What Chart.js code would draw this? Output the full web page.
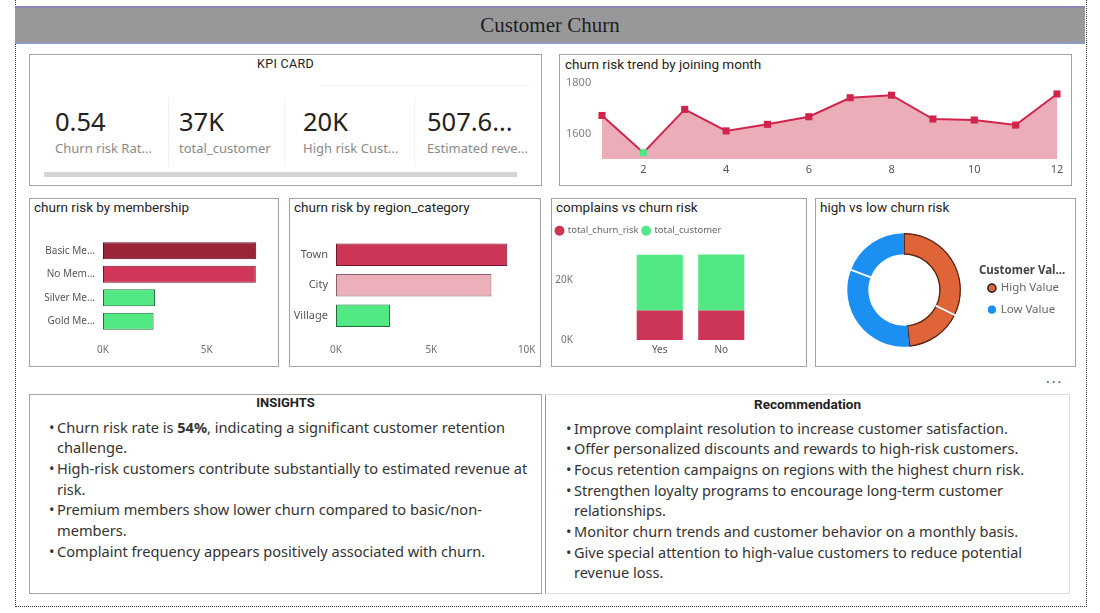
<!DOCTYPE html>
<html><head><meta charset="utf-8">
<script src="https://cdn.jsdelivr.net/npm/chart.js@4.4.1/dist/chart.umd.min.js"></script>
<style>
html,body{margin:0;padding:0;background:#fff;width:1100px;height:613px;overflow:hidden;font-family:"Noto Sans",sans-serif;}
.abs{position:absolute;}
.box{position:absolute;border:1px solid #a3a3a3;box-sizing:border-box;background:#fff;}
.ctitle{position:absolute;font-family:Roboto,sans-serif;font-size:13.5px;color:#252423;white-space:nowrap;line-height:16px;}
canvas{position:absolute;}
.kv{position:absolute;font-family:"Noto Sans",sans-serif;font-size:25.5px;color:#222;top:104px;line-height:34px;white-space:nowrap;}
.kl{position:absolute;font-family:"Noto Sans",sans-serif;font-size:13px;color:#8a8a8a;top:139px;line-height:18px;white-space:nowrap;}
.txt{position:absolute;font-family:"Noto Sans",sans-serif;color:#333;line-height:20.7px;white-space:nowrap;}
.txt .b{position:absolute;left:-8px;}
</style>
</head><body>
<script>
// ---------- DATA ----------
const kpiValues = ['0.54', '37K', '20K', '507.6...'];
const kpiLabels = ['Churn risk Rat...', 'total_customer', 'High risk Cust...', 'Estimated reve...'];

const trendMonths = [1, 2, 3, 4, 5, 6, 7, 8, 9, 10, 11, 12];
const trendChurn = [1672, 1525, 1696, 1611, 1637, 1667, 1742, 1752, 1658, 1654, 1634, 1757];
const trendTicks = [1600, 1800];

const membershipLabels = ['Basic Me...', 'No Mem...', 'Silver Me...', 'Gold Me...'];
const membershipChurn = [7390, 7370, 2510, 2440];

const regionLabels = ['Town', 'City', 'Village'];
const regionChurn = [8980, 8150, 2830];

const complainLabels = ['Yes', 'No'];
const complainChurn = [9800, 9800];
const complainCustomer = [18500, 18550];
const complainTicks = [0, 20000];

const valueSegmentLabels = ['High Value', 'High Value', 'Low Value', 'Low Value'];
const valueSegmentShares = [32.3, 16.2, 32.3, 19.2];
const valueLegend = ['High Value', 'Low Value'];

const insights = [
  ['Churn risk rate is <b>54%</b>, indicating a significant customer retention', 'challenge.'],
  ['High-risk customers contribute substantially to estimated revenue at', 'risk.'],
  ['Premium members show lower churn compared to basic/non-', 'members.'],
  ['Complaint frequency appears positively associated with churn.']
];
const recommendations = [
  ['Improve complaint resolution to increase customer satisfaction.'],
  ['Offer personalized discounts and rewards to high-risk customers.'],
  ['Focus retention campaigns on regions with the highest churn risk.'],
  ['Strengthen loyalty programs to encourage long-term customer', 'relationships.'],
  ['Monitor churn trends and customer behavior on a monthly basis.'],
  ['Give special attention to high-value customers to reduce potential', 'revenue loss.']
];
</script>

<!-- outer dotted frame -->
<div class="abs" style="left:15px;top:0;width:1072px;height:607px;border-left:1px dotted #333;border-right:1px dotted #333;border-bottom:1px dotted #333;box-sizing:border-box;"></div>

<!-- header -->
<div class="abs" style="left:15px;top:6px;width:1070px;height:38px;background:#98989b;border-top:2px solid #8a86b6;border-bottom:2px solid #8c9cc4;box-sizing:border-box;"></div>
<div class="abs" style="left:15px;top:6px;width:1070px;height:38px;line-height:38px;text-align:center;font-family:'Liberation Serif',serif;font-size:21px;color:#1e1e1e;">Customer Churn</div>

<!-- KPI card -->
<div class="box" style="left:29px;top:54px;width:513px;height:132px;"></div>
<div class="abs" style="left:29px;top:56px;width:513px;text-align:center;font-family:Roboto,sans-serif;font-size:12.5px;color:#222;line-height:16px;letter-spacing:0.3px;">KPI CARD</div>
<div class="abs" style="left:320px;top:85px;width:210px;height:1px;background:#f3f3f3;"></div>
<div class="abs" style="left:168px;top:97px;width:1px;height:70px;background:#f2f2f2;"></div>
<div class="abs" style="left:284px;top:97px;width:1px;height:70px;background:#f2f2f2;"></div>
<div class="abs" style="left:414px;top:97px;width:1px;height:70px;background:#f2f2f2;"></div>
<div class="abs" style="left:44px;top:172px;width:473px;height:5px;background:#d4d4d6;"></div>
<div id="kpis"></div>

<!-- trend -->
<div class="box" style="left:559px;top:54px;width:513px;height:132px;"></div>
<div class="ctitle" style="left:565px;top:56px;">churn risk trend by joining month</div>
<canvas id="trend" width="510" height="111" style="left:560px;top:72px;"></canvas>

<!-- membership -->
<div class="box" style="left:29px;top:198px;width:250px;height:169px;"></div>
<div class="ctitle" style="left:34px;top:199px;">churn risk by membership</div>
<canvas id="member" width="247" height="133" style="left:30px;top:225px;"></canvas>

<!-- region -->
<div class="box" style="left:289px;top:198px;width:252px;height:169px;"></div>
<div class="ctitle" style="left:294px;top:199px;">churn risk by region_category</div>
<canvas id="region" width="249" height="133" style="left:290px;top:225px;"></canvas>

<!-- complains -->
<div class="box" style="left:551px;top:198px;width:256px;height:169px;"></div>
<div class="ctitle" style="left:556px;top:199px;">complains vs churn risk</div>
<canvas id="complain" width="253" height="136" style="left:552px;top:222px;"></canvas>

<!-- donut -->
<div class="box" style="left:815px;top:198px;width:261px;height:169px;"></div>
<div class="ctitle" style="left:820px;top:199px;">high vs low churn risk</div>
<canvas id="donut" width="258" height="140" style="left:816px;top:220px;"></canvas>
<div class="abs" style="left:1046px;top:370px;font-size:14px;color:#555;letter-spacing:2px;line-height:16px;">...</div>

<!-- insights -->
<div class="box" style="left:29px;top:394px;width:513px;height:200px;"></div>
<div class="abs" style="left:29px;top:395px;width:513px;text-align:center;font-family:Roboto,sans-serif;font-weight:bold;font-size:13px;color:#222;line-height:16px;">INSIGHTS</div>
<div id="ins"></div>

<!-- recommendation -->
<div class="box" style="left:545px;top:394px;width:525px;height:200px;border-color:#dcdcdc;border-left-color:#9a9a9a;"></div>
<div class="abs" style="left:545px;top:396px;width:525px;text-align:center;font-family:Roboto,sans-serif;font-weight:bold;font-size:13.5px;color:#222;line-height:17px;">Recommendation</div>
<div id="rec"></div>

<script>
// KPI text
const kpiX = [55, 179, 303, 427];
let kh = '';
kpiValues.forEach((v, i) => {
  kh += `<div class="kv" style="left:${kpiX[i]}px">${v}</div><div class="kl" style="left:${kpiX[i]}px">${kpiLabels[i]}</div>`;
});
document.getElementById('kpis').innerHTML = kh;

function bulletBlock(el, items, left, top, size) {
  let h = '', line = 0;
  items.forEach(it => {
    it.forEach((t, j) => {
      h += `<div class="txt" style="font-size:${size}px;left:${left}px;top:${top + line * 20.7}px">${j === 0 ? '<span class="b">•</span>' : ''}${t}</div>`;
      line++;
    });
  });
  document.getElementById(el).innerHTML = h;
}
bulletBlock('ins', insights, 57, 416.5, 14.6);
bulletBlock('rec', recommendations, 574, 417.5, 14.5);

Chart.defaults.font.family = '"Noto Sans", sans-serif';
Chart.defaults.animation = false;
const tickColor = '#707070';
const noGrid = {display: false, drawTicks: false};

// trend line
const minV = Math.min(...trendChurn);
new Chart(document.getElementById('trend'), {
  type: 'line',
  data: {labels: trendMonths, datasets: [{
    data: trendChurn, borderColor: '#d0244b', borderWidth: 2, backgroundColor: '#ebaeb9',
    fill: 'start', tension: 0, pointStyle: 'rect', pointRadius: 5,
    pointBackgroundColor: trendChurn.map(v => v === minV ? '#4fe681' : '#d0244b'),
    pointBorderColor: trendChurn.map(v => v === minV ? '#4fe681' : '#d0244b'), pointBorderWidth: 0
  }]},
  options: {
    responsive: false, maintainAspectRatio: false,
    layout: {padding: {left: 6, right: 13, top: 6, bottom: 0}},
    plugins: {legend: {display: false}, tooltip: {enabled: false}},
    scales: {
      x: {grid: noGrid, border: {display: false},
        ticks: {autoSkip: false, maxRotation: 0, color: '#555', font: {size: 11}, padding: 4,
          callback: (v, i) => trendMonths[i] % 2 === 0 ? String(trendMonths[i]) : ''},
        afterFit: s => { s.height = 24; s.paddingRight = 0; s.paddingLeft = 0; }},
      y: {min: 1500, max: 1820, grid: noGrid, border: {display: false},
        afterBuildTicks: s => { s.ticks = trendTicks.map(v => ({value: v})); },
        ticks: {color: '#808080', font: {size: 11}, crossAlign: 'far', padding: 0, callback: v => String(v)},
        afterFit: s => { s.width = 36; s.paddingTop = 0; s.paddingBottom = 0; }}
    }
  }
});

// membership
new Chart(document.getElementById('member'), {
  type: 'bar',
  data: {labels: membershipLabels, datasets: [{
    data: membershipChurn,
    backgroundColor: ['#9b2438', '#cf3658', '#52e883', '#52e883'],
    borderColor: ['#5a0f1f', '#76132d', '#1d6e3a', '#1d6e3a'],
    borderWidth: 1, borderSkipped: false, barPercentage: 0.72, categoryPercentage: 1
  }]},
  options: {
    indexAxis: 'y', responsive: false, maintainAspectRatio: false,
    layout: {padding: {left: 0, right: 18.5, top: 7.5, bottom: 0}},
    plugins: {legend: {display: false}, tooltip: {enabled: false}},
    scales: {
      x: {min: 0, max: 7500, grid: noGrid, border: {display: false},
        afterBuildTicks: s => { s.ticks = [{value: 0}, {value: 5000}]; },
        ticks: {color: tickColor, font: {size: 10}, padding: 11, callback: v => (v / 1000) + 'K'},
        afterFit: s => { s.height = 25; s.paddingRight = 0; s.paddingLeft = 0; }},
      y: {grid: noGrid, border: {display: false},
        ticks: {color: '#555', font: {size: 10}, padding: 8},
        afterFit: s => { s.width = 73; }}
    }
  }
});

// region
new Chart(document.getElementById('region'), {
  type: 'bar',
  data: {labels: regionLabels, datasets: [{
    data: regionChurn,
    backgroundColor: ['#cd3556', '#ecb0bb', '#52e883'],
    borderColor: ['#76132d', '#8a5f66', '#1d6e3a'],
    borderWidth: 1, borderSkipped: false, barPercentage: 0.74, categoryPercentage: 1
  }]},
  options: {
    indexAxis: 'y', responsive: false, maintainAspectRatio: false,
    layout: {padding: {left: 0, right: 12.3, top: 9, bottom: 0}},
    plugins: {legend: {display: false}, tooltip: {enabled: false}},
    scales: {
      x: {min: 0, max: 10000, grid: noGrid, border: {display: false},
        afterBuildTicks: s => { s.ticks = [{value: 0}, {value: 5000}, {value: 10000}]; },
        ticks: {color: tickColor, font: {size: 10}, padding: 13, callback: v => (v / 1000) + 'K'},
        afterFit: s => { s.height = 27; s.paddingRight = 0; s.paddingLeft = 0; }},
      y: {grid: noGrid, border: {display: false},
        ticks: {color: '#555', font: {size: 11}, padding: 8},
        afterFit: s => { s.width = 46; }}
    }
  }
});

// complains stacked
new Chart(document.getElementById('complain'), {
  type: 'bar',
  data: {labels: complainLabels, datasets: [
    {label: 'total_churn_risk', data: complainChurn, backgroundColor: '#cd3556', borderColor: '#cd3556', barPercentage: 0.75, categoryPercentage: 1},
    {label: 'total_customer', data: complainCustomer, backgroundColor: '#52e883', borderColor: '#52e883', barPercentage: 0.75, categoryPercentage: 1}
  ]},
  options: {
    responsive: false, maintainAspectRatio: false,
    layout: {padding: {left: 0, right: 53, top: 0, bottom: 0}},
    plugins: {
      legend: {display: true, position: 'top', align: 'start',
        labels: {usePointStyle: true, pointStyle: 'circle', boxHeight: 7, boxWidth: 7, padding: 4, color: '#666', font: {size: 9.5}}},
      tooltip: {enabled: false}
    },
    scales: {
      x: {stacked: true, grid: noGrid, border: {display: false},
        ticks: {color: '#555', font: {size: 10}, padding: 4},
        afterFit: s => { s.height = 18; }},
      y: {stacked: true, min: 0, max: 31333, grid: noGrid, border: {display: false},
        afterBuildTicks: s => { s.ticks = complainTicks.map(v => ({value: v})); },
        ticks: {color: tickColor, font: {size: 10}, padding: 56, callback: v => (v / 1000) + 'K'},
        afterFit: s => { s.width = 77; s.paddingTop = 0; s.paddingBottom = 0; }}
    }
  }
});

// donut
const orange = '#df6438', blue = '#1b8ff2';
const sameGroupSeparators = {
  id: 'sameGroupSeparators',
  afterDatasetDraw(chart) {
    const meta = chart.getDatasetMeta(0);
    const labels = chart.data.labels;
    const ctx = chart.ctx;
    ctx.save();
    ctx.strokeStyle = '#ffffff';
    ctx.lineWidth = 2;
    meta.data.forEach((arc, i) => {
      if (i > 0 && labels[i] === labels[i - 1]) {
        const a = arc.startAngle;
        ctx.beginPath();
        ctx.moveTo(arc.x + Math.cos(a) * arc.innerRadius, arc.y + Math.sin(a) * arc.innerRadius);
        ctx.lineTo(arc.x + Math.cos(a) * (arc.outerRadius + 1), arc.y + Math.sin(a) * (arc.outerRadius + 1));
        ctx.stroke();
      }
    });
    ctx.restore();
  }
};
new Chart(document.getElementById('donut'), {
  type: 'doughnut',
  data: {labels: valueSegmentLabels, datasets: [{
    data: valueSegmentShares,
    backgroundColor: valueSegmentLabels.map(l => l === 'High Value' ? orange : blue),
    borderColor: valueSegmentLabels.map(l => l === 'High Value' ? '#5a2616' : blue),
    borderWidth: valueSegmentLabels.map(l => l === 'High Value' ? 1 : 0),
    borderAlign: 'inner'
  }]},
  plugins: [sameGroupSeparators],
  options: {
    responsive: false, maintainAspectRatio: false, cutout: '62%',
    layout: {padding: {left: 13, right: 5, top: 13, bottom: 13}},
    plugins: {
      tooltip: {enabled: false},
      legend: {display: true, position: 'right', align: 'center',
        title: {display: true, text: 'Customer Val...', color: '#444', font: {size: 11.5, weight: 'bold'}, position: 'start', padding: {top: 10, bottom: -6}},
        labels: {usePointStyle: true, boxHeight: 5.7, boxWidth: 6, padding: 10, color: '#666', font: {size: 11.5},
          generateLabels: () => valueLegend.map((t, i) => ({
            text: t, fillStyle: i === 0 ? orange : blue, strokeStyle: i === 0 ? '#222' : blue,
            lineWidth: i === 0 ? 1.5 : 0, pointStyle: 'circle', fontColor: '#666', hidden: false, index: i
          }))}
      }
    }
  }
});
</script>
</body></html>
